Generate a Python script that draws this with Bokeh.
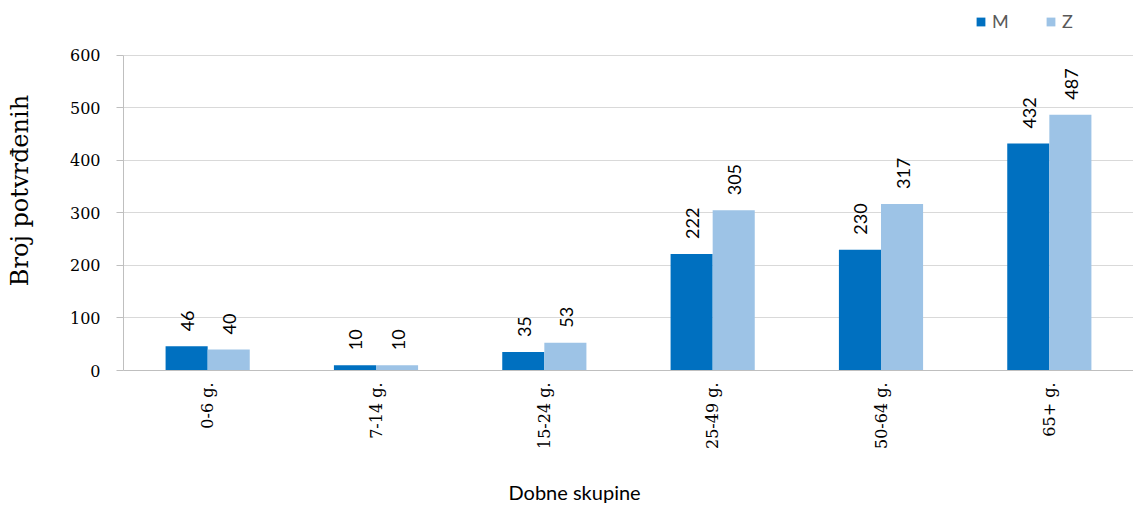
import math
from bokeh.plotting import figure
from bokeh.models import ColumnDataSource, FactorRange, Range1d, Legend, LegendItem, Title
from bokeh.transform import dodge
from bokeh.core.properties import value
from bokeh.embed import file_html
from bokeh.resources import INLINE

categories = ["0-6 g.", "7-14 g.", "15-24 g.", "25-49 g.", "50-64 g.", "65+ g."]
m_values = [46, 10, 35, 222, 230, 432]
z_values = [40, 10, 53, 305, 317, 487]
series_names = ["M", "Z"]
y_ticks = [0, 100, 200, 300, 400, 500, 600]
y_max = 600

M_COLOR = "#0070C0"
Z_COLOR = "#9DC3E6"
AXIS_GRAY = "#BFBFBF"

src = ColumnDataSource(dict(
    cat=categories,
    m=m_values,
    z=z_values,
    m_lbl=[str(v) for v in m_values],
    z_lbl=[str(v) for v in z_values],
))

TOP, BOTTOM, H = 10, 157, 528
frame_h = H - TOP - BOTTOM
axis_px = 316  # pixel height of 0..600

p = figure(
    x_range=FactorRange(*categories),
    y_range=Range1d(0, y_max * frame_h / axis_px),
    width=1133, height=H,
    output_backend="svg", toolbar_location=None,
    min_border_left=123, min_border_right=0,
    min_border_top=TOP, min_border_bottom=BOTTOM,
)
p.outline_line_color = None

bw = 0.25
r_m = p.vbar(x=dodge("cat", -0.125, range=p.x_range), top="m", width=bw, source=src,
             fill_color=M_COLOR, line_color=None)
r_z = p.vbar(x=dodge("cat", 0.125, range=p.x_range), top="z", width=bw, source=src,
             fill_color=Z_COLOR, line_color=None)

label_kw = dict(angle=math.pi / 2, text_align="left", text_baseline="middle",
                text_font=value("Lato"), text_font_size="18px", text_color="#000000",
                x_offset=1, y_offset=-15, source=src)
p.text(x=dodge("cat", -0.125, range=p.x_range), y="m", text="m_lbl", **label_kw)
p.text(x=dodge("cat", 0.125, range=p.x_range), y="z", text="z_lbl", **label_kw)

# y axis
p.yaxis.ticker = y_ticks
p.yaxis.bounds = (0, y_max)
p.yaxis.axis_label = "Broj potvrđenih"
p.yaxis.axis_label_text_font = "DejaVu Serif"
p.yaxis.axis_label_text_font_size = "24px"
p.yaxis.axis_label_text_font_style = "normal"
p.yaxis.axis_label_text_color = "#000000"
p.yaxis.axis_label_standoff = 33
p.yaxis.major_label_text_font = "DejaVu Serif"
p.yaxis.major_label_text_font_size = "16px"
p.yaxis.major_label_text_color = "#000000"
p.yaxis.major_label_standoff = 16
p.yaxis.axis_line_color = AXIS_GRAY
p.yaxis.major_tick_line_color = AXIS_GRAY
p.yaxis.major_tick_out = 7
p.yaxis.major_tick_in = 0
p.yaxis.minor_tick_line_color = None

# x axis
p.xaxis.major_label_orientation = math.pi / 2
p.xaxis.major_label_text_font = "DejaVu Serif"
p.xaxis.major_label_text_font_size = "16px"
p.xaxis.major_label_text_color = "#000000"
p.xaxis.major_label_standoff = 12
p.xaxis.major_tick_out = 0
p.xaxis.major_tick_in = 0
p.xaxis.axis_line_color = AXIS_GRAY
p.xaxis.major_tick_line_color = None

x_title = Title(text="Dobne skupine", align="left", offset=385, standoff=50,
                text_font="Lato", text_font_size="20px", text_font_style="normal",
                text_color="#000000")
p.add_layout(x_title, "below")

p.xgrid.grid_line_color = None
p.ygrid.grid_line_color = "#D9D9D9"
p.ygrid.grid_line_width = 1

legend = Legend(
    items=[LegendItem(label=series_names[0], renderers=[r_m]),
           LegendItem(label=series_names[1], renderers=[r_z])],
    location=(852, 338), orientation="horizontal",
    glyph_width=11, glyph_height=11, label_height=18,
    label_text_font="Lato", label_text_font_size="18px", label_text_color="#595959",
    label_standoff=6, spacing=33, padding=0, margin=0,
    border_line_color=None, background_fill_alpha=0,
)
p.add_layout(legend, "center")

open("out.html", "w").write(file_html(p, INLINE))
